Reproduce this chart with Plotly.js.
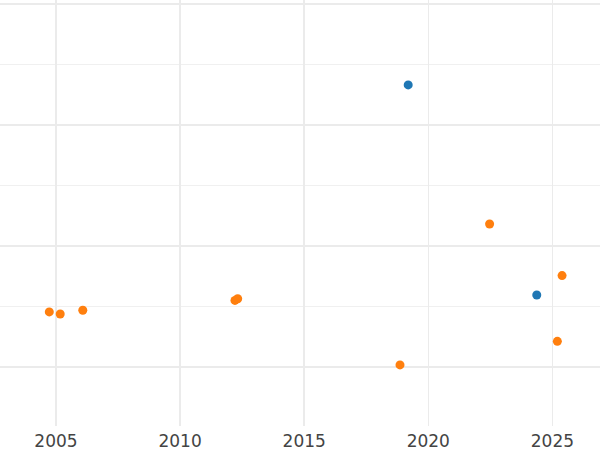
<!DOCTYPE html>
<html>
<head>
<meta charset="utf-8">
<script src="https://cdn.plot.ly/plotly-3.0.1.min.js"></script>
<style>html,body{margin:0;padding:0;background:#fff;}#chart{width:600px;height:450px;}</style>
</head>
<body>
<div id="chart"></div>
<script>
const orangeYears = [2004.73, 2005.17, 2006.08, 2012.21, 2012.32, 2018.86, 2022.47, 2025.39, 2025.20];
const orangeValues = [4.55, 4.38, 4.69, 5.50, 5.64, 0.17, 11.82, 7.55, 2.12];
const blueYears = [2019.19, 2024.37];
const blueValues = [23.31, 5.95];
const xTickValues = [2005, 2010, 2015, 2020, 2025];
const xTickLabels = ['2005', '2010', '2015', '2020', '2025'];

const traces = [
  {x: blueYears, y: blueValues, type: 'scatter', mode: 'markers',
   marker: {color: '#1f77b4', size: 9}, showlegend: false, hoverinfo: 'x+y'},
  {x: orangeYears, y: orangeValues, type: 'scatter', mode: 'markers',
   marker: {color: '#ff7f0e', size: 9}, showlegend: false, hoverinfo: 'x+y'}
];

const layout = {
  width: 600, height: 450,
  margin: {l: 0, r: 0, t: 0, b: 24, pad: 0},
  paper_bgcolor: '#ffffff', plot_bgcolor: '#ffffff',
  showlegend: false,
  xaxis: {
    range: [2002.744, 2026.918],
    tickmode: 'array', tickvals: xTickValues, ticktext: xTickLabels,
    showgrid: true, gridcolor: '#ebebeb', gridwidth: 1.5,
    zeroline: false, showline: false, ticks: '',
    ticklabelstandoff: 3,
    tickfont: {family: 'DejaVu Sans', size: 17, color: '#444444'}
  },
  yaxis: {
    range: [-4.88, 30.33],
    tickmode: 'linear', tick0: 0, dtick: 10,
    showticklabels: false, ticks: '',
    showgrid: true, gridcolor: '#ebebeb', gridwidth: 1.5,
    minor: {dtick: 5, showgrid: true, gridcolor: '#f0f0f0', gridwidth: 1},
    zeroline: false, showline: false
  }
};

Plotly.newPlot('chart', traces, layout, {displayModeBar: false, staticPlot: true});
</script>
</body>
</html>
